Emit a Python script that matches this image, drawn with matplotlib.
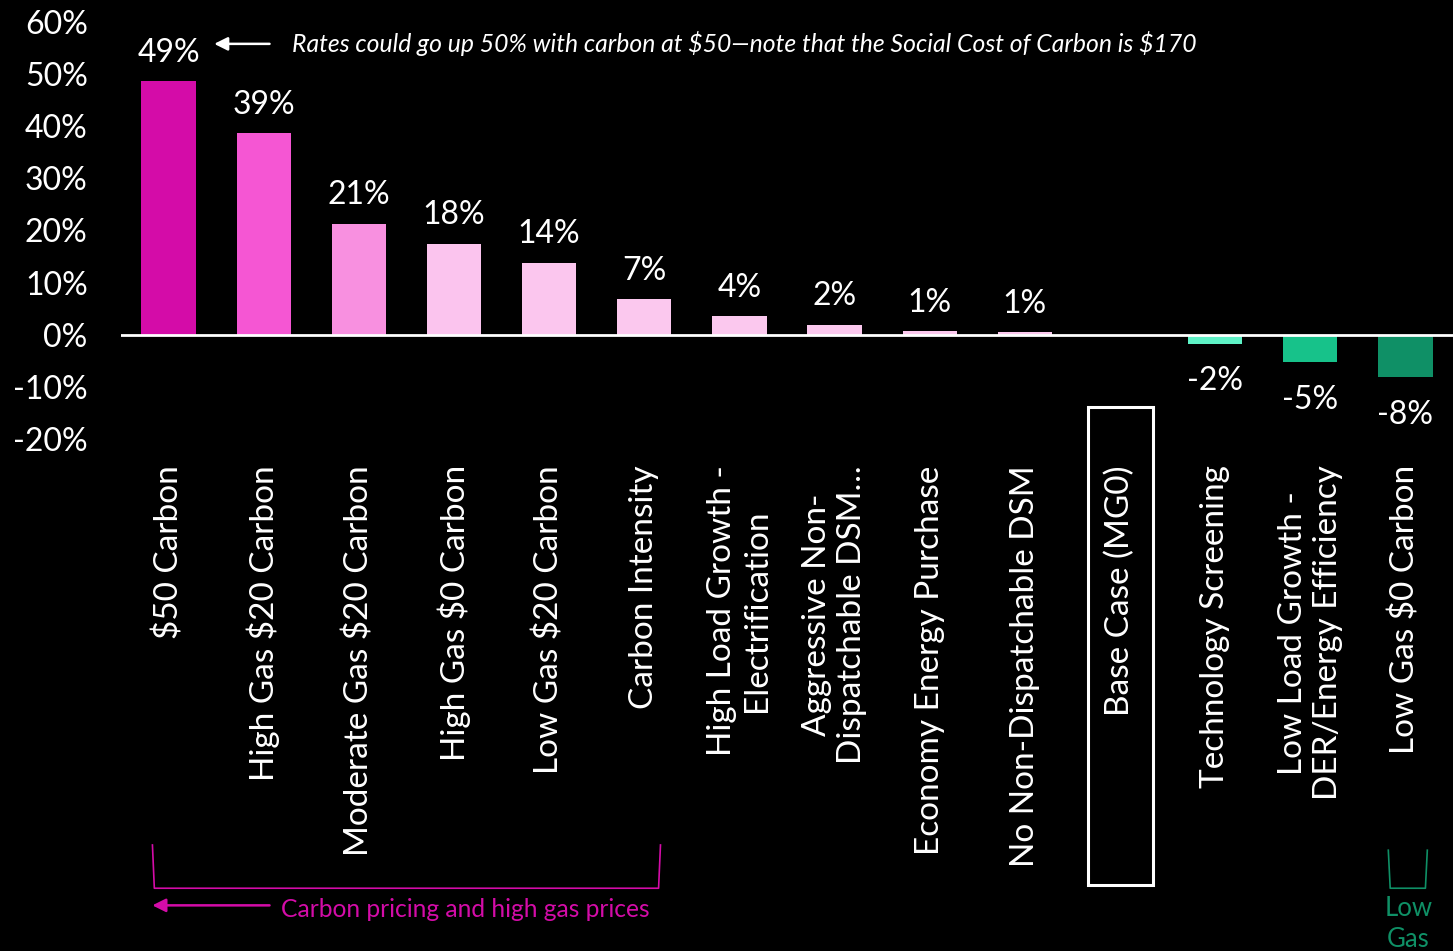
import numpy as np
import matplotlib.pyplot as plt
from matplotlib.transforms import blended_transform_factory
from matplotlib.patches import Rectangle

plt.rcParams['font.family'] = ['Lato', 'DejaVu Sans']

# 1. Data
categories = ['$50 Carbon', 'High Gas $20 Carbon', 'Moderate Gas $20 Carbon',
              'High Gas $0 Carbon', 'Low Gas $20 Carbon', 'Carbon Intensity',
              'High Load Growth -\nElectrification',
              'Aggressive Non-\nDispatchable DSM\u2026',
              'Economy Energy Purchase', 'No Non-Dispatchable DSM',
              'Base Case (MG0)', 'Technology Screening',
              'Low Load Growth -\nDER/Energy Efficiency', 'Low Gas $0 Carbon']
values = [48.6, 38.7, 21.3, 17.5, 13.8, 6.8, 3.6, 1.9, 0.7, 0.5, 0.0, -1.8, -5.3, -8.2]
labels = ['49%', '39%', '21%', '18%', '14%', '7%', '4%', '2%', '1%', '1%', '',
          '-2%', '-5%', '-8%']
colors = ['#D40CA8', '#F556D3', '#F890E0', '#FBC4EE', '#FBC6EE', '#FBC8EE',
          '#FBC8EE', '#FBC8EE', '#FBC8EE', '#FBC8EE', '#FBC8EE',
          '#5EF2C6', '#17C28A', '#0F9066']
yticks = [-20, -10, 0, 10, 20, 30, 40, 50, 60]

magenta = '#D40CA8'
green = '#0F9066'

# 2. Plot
fig = plt.figure(figsize=(14.53, 9.51), dpi=100, facecolor='black')
ax = fig.add_axes([0.0833, 0.5384, 0.9167, 0.4385], facecolor='black')

x = np.arange(len(categories))
ax.bar(x, values, width=0.57, color=colors, zorder=2)
ax.axhline(0, color='white', lw=2, zorder=3)

for xi, v, lab in zip(x, values, labels):
    if not lab:
        continue
    if v >= 0:
        ax.annotate(lab, (xi, v), xytext=(0, 14), textcoords='offset points',
                    ha='center', va='baseline', color='white', fontsize=23)
    else:
        ax.annotate(lab, (xi, v), xytext=(0, -16), textcoords='offset points',
                    ha='center', va='top', color='white', fontsize=23)

ax.set_xlim(-0.5, len(categories) - 0.5)
ax.set_ylim(-20, 60)
ax.set_yticks(yticks)
ax.set_yticklabels([f'{t}%' for t in yticks], color='white', fontsize=23)
ax.set_xticks(x)
ax.set_xticklabels(categories, rotation=90, color='white', fontsize=24,
                   va='top', ha='center')
for t in ax.get_xticklabels():
    t.set_multialignment('center')
ax.tick_params(axis='both', length=0)
ax.tick_params(axis='x', pad=19)
ax.tick_params(axis='y', pad=24)
for s in ax.spines.values():
    s.set_visible(False)

# top annotation
ax.annotate('', xy=(0.45, 55.8), xytext=(1.09, 55.8),
            arrowprops=dict(arrowstyle='-|>', color='white', lw=1.8,
                            mutation_scale=20))
note = ('Rates could go up 50% with carbon at \\$50\u2014note that the '
        'Social Cost of Carbon is \\$170')
ax.text(1.3, 55.8, note, color='white', fontsize=17.8, style='italic',
        va='center', ha='left')

# bottom brackets
tr = blended_transform_factory(ax.transData, fig.transFigure)
ax.plot([-0.17, -0.15, 5.15, 5.17], [0.1115, 0.066, 0.066, 0.1115],
        color=magenta, lw=1.2, transform=tr, clip_on=False)
ax.annotate('', xy=(-0.2, 0.048), xytext=(1.09, 0.048),
            xycoords=tr, textcoords=tr,
            arrowprops=dict(arrowstyle='-|>', color=magenta, lw=1.8,
                            mutation_scale=20))
ax.text(1.18, 0.044, 'Carbon pricing and high gas prices', color=magenta,
        fontsize=17.7, va='center', ha='left', transform=tr)

ax.plot([12.82, 12.84, 13.21, 13.23], [0.106, 0.066, 0.066, 0.106],
        color=green, lw=1.2, transform=tr, clip_on=False)
ax.text(13.03, 0.028, 'Low\nGas', color=green, fontsize=18.5, ha='center',
        va='center', transform=tr, linespacing=1.3)

# base case box
ax.add_patch(Rectangle((9.66, 0.069), 0.69, 0.503, transform=tr, fill=False,
                       edgecolor='white', lw=2.2, clip_on=False))

# 3. Save
fig.savefig('out.png', dpi=100, facecolor='black')
